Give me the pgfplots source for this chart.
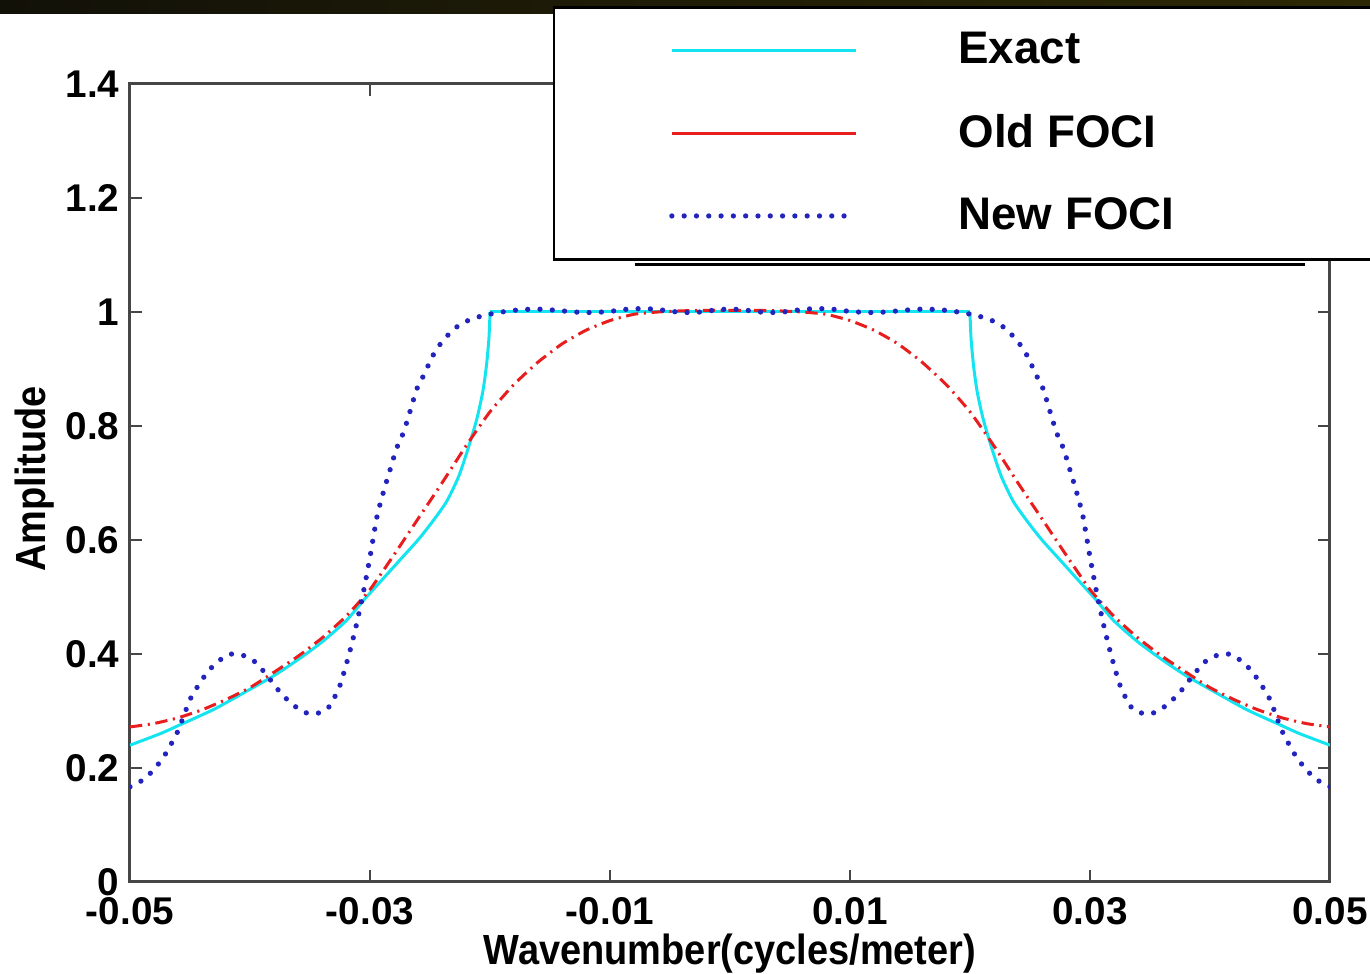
\documentclass[border=0pt]{standalone}
\usepackage{fontspec}
\setmainfont{Liberation Sans}
\usepackage{graphicx}
\usepackage{pgfplots}
\pgfplotsset{compat=1.18}
\definecolor{exactc}{RGB}{20,228,240}
\definecolor{oldc}{RGB}{232,30,30}
\definecolor{newc}{RGB}{35,35,190}
\definecolor{axc}{RGB}{70,70,70}
\definecolor{barL}{RGB}{18,17,8}
\definecolor{barR}{RGB}{45,40,5}
\pgfplotsset{
  mylegimg/.style={legend image code/.code={\path (-11.5mm,0) (28.4mm,0); \draw[##1] (0mm,0mm) -- (18.4mm,0mm);}},
  solidlegimg/.style={legend image code/.code={\path (-11.5mm,0) (28.4mm,0); \draw[##1,solid] (0mm,0mm) -- (18.4mm,0mm);}},
}
\begin{document}
\begin{tikzpicture}
\shade[left color=barL, right color=barR] (-13mm,86.8mm) rectangle (124mm,88.2mm);
\begin{axis}[
  at={(0,0)}, anchor=south west, scale only axis,
  width=120mm, height=79.8mm,
  xmin=-0.05, xmax=0.05, ymin=0, ymax=1.4,
  scaled x ticks=false, scaled y ticks=false,
  xtick={-0.05,-0.03,-0.01,0.01,0.03,0.05},
  xticklabels={-0.05,-0.03,-0.01,0.01,0.03,0.05},
  ytick={0,0.2,0.4,0.6,0.8,1,1.2,1.4},
  yticklabels={0,0.2,0.4,0.6,0.8,1,1.2,1.4},
  tick align=inside, major tick length=1.2mm,
  tick style={axc, line width=0.25mm},
  axis line style={axc, line width=0.3mm},
  tick label style={font=\bfseries\fontsize{11}{13}\selectfont, inner sep=0pt},
  xticklabel style={yshift=-1.5mm},
  yticklabel style={xshift=-1mm},
  xlabel={\bfseries\scalebox{0.9}[1]{\bfseries Wavenumber(cycles/meter)}},
  ylabel={\bfseries\scalebox{0.9}[1]{\bfseries Amplitude}},
  every axis x label/.style={at={(axis description cs:0.5,0)}, anchor=base, yshift=-8.3mm,
     font=\bfseries\fontsize{12}{14}\selectfont},
  every axis y label/.style={at={(axis description cs:-0.0708,0.505)}, rotate=90, anchor=base,
     font=\bfseries\fontsize{12}{14}\selectfont},
  legend cell align=left,
  legend style={at={(0.3525,1.0977)}, anchor=north west, draw=black, line width=0.25mm,
    fill=white, inner xsep=0pt, inner ysep=2.5mm, row sep=4.5mm, column sep=0pt,
    font=\bfseries\fontsize{13}{15}\selectfont, nodes={inner sep=0pt}},
  mylegimg,
]
\addplot[exactc, line width=0.3mm, smooth, tension=0.4] coordinates {
(-0.0500,0.240) (-0.0475,0.260) (-0.0458,0.276) (-0.0430,0.303) (-0.0400,0.338)
(-0.0380,0.362) (-0.0360,0.390) (-0.0340,0.421) (-0.0320,0.458) (-0.0305,0.495)
(-0.0290,0.530) (-0.0275,0.565) (-0.0260,0.600) (-0.0248,0.632) (-0.0236,0.668)
(-0.0226,0.712) (-0.0218,0.762) (-0.0211,0.812) (-0.0206,0.860) (-0.0203,0.905)
(-0.0201,0.950) (-0.02003,0.980) (-0.0200,1.000)
};
\addlegendentry{Exact}
\addplot[exactc, line width=0.3mm, forget plot] coordinates {(-0.0200,1.000) (0.0200,1.000)};
\addplot[exactc, line width=0.3mm, smooth, tension=0.4, forget plot] coordinates {
(0.0200,1.000) (0.02003,0.980) (0.0201,0.950) (0.0203,0.905) (0.0206,0.860)
(0.0211,0.812) (0.0218,0.762) (0.0226,0.712) (0.0236,0.668) (0.0248,0.632)
(0.0260,0.600) (0.0275,0.565) (0.0290,0.530) (0.0305,0.495) (0.0320,0.458)
(0.0340,0.421) (0.0360,0.390) (0.0380,0.362) (0.0400,0.338) (0.0430,0.303)
(0.0458,0.276) (0.0475,0.260) (0.0500,0.240)
};
\addplot[oldc, line width=0.3mm, dash pattern=on 3.5pt off 1.6pt on 0.6pt off 1.6pt, solidlegimg, smooth, tension=0.3] coordinates {
(-0.050,0.272) (-0.048,0.278) (-0.046,0.288) (-0.044,0.302) (-0.042,0.320)
(-0.040,0.341) (-0.038,0.368) (-0.036,0.396) (-0.034,0.428) (-0.032,0.466)
(-0.030,0.513) (-0.028,0.574) (-0.026,0.637) (-0.024,0.700) (-0.022,0.765)
(-0.020,0.825) (-0.018,0.873) (-0.016,0.912) (-0.014,0.944) (-0.012,0.968)
(-0.010,0.985) (-0.008,0.996) (-0.006,1.000) (-0.004,1.002) (-0.002,1.003)
(0.000,1.003)
(0.002,1.003) (0.004,1.002) (0.006,1.000) (0.008,0.996) (0.010,0.985)
(0.012,0.968) (0.014,0.944) (0.016,0.912) (0.018,0.873) (0.020,0.825)
(0.022,0.765) (0.024,0.700) (0.026,0.637) (0.028,0.574) (0.030,0.513)
(0.032,0.466) (0.034,0.428) (0.036,0.396) (0.038,0.368) (0.040,0.341)
(0.042,0.320) (0.044,0.302) (0.046,0.288) (0.048,0.278) (0.050,0.272)
};
\addlegendentry{Old FOCI}
\addplot[newc, line width=1.5pt, line cap=round, dash pattern=on 0pt off 3.5pt, smooth, tension=0.3] coordinates {
(-0.0500,0.167) (-0.0490,0.178) (-0.0480,0.197) (-0.0470,0.226) (-0.0460,0.265)
(-0.0450,0.320) (-0.0440,0.355) (-0.0430,0.381) (-0.0420,0.397) (-0.0415,0.400)
(-0.0405,0.397) (-0.0395,0.385) (-0.0385,0.360) (-0.0375,0.333) (-0.0365,0.312)
(-0.0355,0.298) (-0.0348,0.295) (-0.0340,0.298) (-0.0333,0.310) (-0.0325,0.345)
(-0.0318,0.395) (-0.0312,0.445) (-0.0306,0.503) (-0.0300,0.570) (-0.0294,0.643)
(-0.0288,0.690) (-0.0283,0.725) (-0.0278,0.760) (-0.0272,0.789) (-0.0266,0.830)
(-0.0261,0.865) (-0.0255,0.890) (-0.0248,0.922) (-0.0240,0.948) (-0.0232,0.966)
(-0.0225,0.978) (-0.0215,0.988) (-0.0203,0.995) (-0.0190,1.000) (-0.0175,1.004)
(-0.0160,1.005) (-0.0145,1.003) (-0.0130,1.000) (-0.0115,0.999) (-0.0100,1.001)
(-0.0085,1.005) (-0.0070,1.006) (-0.0055,1.003) (-0.0040,0.999) (-0.0025,1.000)
(-0.0010,1.004) (0.0000,1.005)
(0.0010,1.004) (0.0025,1.000) (0.0040,0.999) (0.0055,1.003) (0.0070,1.006)
(0.0085,1.005) (0.0100,1.001) (0.0115,0.999) (0.0130,1.000) (0.0145,1.003)
(0.0160,1.005) (0.0175,1.004) (0.0190,1.000) (0.0203,0.995) (0.0215,0.988)
(0.0225,0.978) (0.0232,0.966) (0.0240,0.948) (0.0248,0.922) (0.0255,0.890)
(0.0261,0.865) (0.0266,0.830) (0.0272,0.789) (0.0278,0.760) (0.0283,0.725)
(0.0288,0.690) (0.0294,0.643) (0.0300,0.570) (0.0306,0.503) (0.0312,0.445)
(0.0318,0.395) (0.0325,0.345) (0.0333,0.310) (0.0340,0.298) (0.0348,0.295)
(0.0355,0.298) (0.0365,0.312) (0.0375,0.333) (0.0385,0.360) (0.0395,0.385)
(0.0405,0.397) (0.0415,0.400) (0.0420,0.397) (0.0430,0.381) (0.0440,0.355)
(0.0450,0.320) (0.0460,0.265) (0.0470,0.226) (0.0480,0.197) (0.0490,0.178)
(0.0500,0.167)
};
\addlegendentry{\makebox[45mm][l]{New FOCI}}
\end{axis}
\draw[black, line width=0.3mm] (50.5mm,61.75mm) -- (117.5mm,61.75mm);
\pgfresetboundingbox
\useasboundingbox (-13mm,-9.2mm) rectangle (124mm,88.2mm);
\end{tikzpicture}
\end{document}
